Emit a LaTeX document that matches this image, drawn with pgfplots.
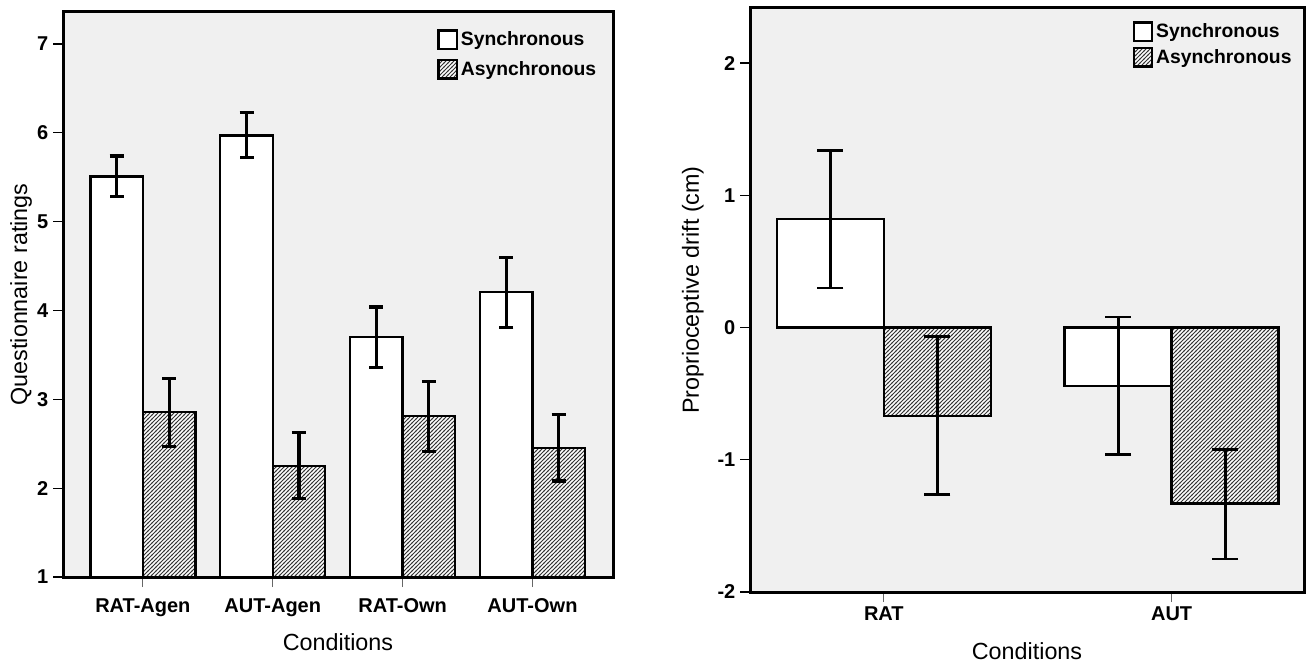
\documentclass[border=0pt]{standalone}
\usepackage{fontspec}
\setmainfont{Liberation Sans}
\usepackage{pgfplots}
\pgfplotsset{compat=1.18}
\usetikzlibrary{patterns}
\definecolor{bgGray}{HTML}{F0F0F0}
\definecolor{hatchInk}{HTML}{333333}

% diagonal hatch, a bit heavier than the stock one
\pgfdeclarepatternformonly{hatch}{\pgfqpoint{-1pt}{-1pt}}{\pgfqpoint{4pt}{4pt}}{\pgfqpoint{3pt}{3pt}}{
  \pgfsetlinewidth{0.6pt}
  \pgfpathmoveto{\pgfqpoint{-0.6pt}{-0.6pt}}
  \pgfpathlineto{\pgfqpoint{3.6pt}{3.6pt}}
  \pgfusepath{stroke}
}

\pgfplotsset{
  spss/.style={
    scale only axis,
    ybar,
    axis background/.style={fill=bgGray},
    tick align=outside,
    major tick length=7.5pt,
    y tick style={black, line width=1pt},
    x tick style={black!60, line width=0.8pt},
    xtick pos=bottom, ytick pos=left,
    ticklabel style={font=\fontsize{15}{18}\selectfont\bfseries},
    label style={font=\fontsize{17.5}{21}\selectfont},
    legend style={draw=none, fill=none, inner sep=0pt, anchor=north west,
      font=\fontsize{14.5}{17}\selectfont\bfseries, cells={anchor=west},
      /tikz/every even column/.append style={column sep=1pt}},
  },
  sqlegend/.style={legend image code/.code={
      \draw[##1, line width=1.7pt] (0pt,-7pt) rectangle (14pt,7pt);}},
  sync/.style={draw=black, fill=white, line width=1.8pt, sqlegend},
  async/.style={draw=black, fill=white, line width=1.8pt,
    postaction={pattern=hatch, pattern color=hatchInk}, sqlegend},
  errs/.style 2 args={error bars/.cd, y dir=both, y explicit,
    error bar style={line width=#1, black},
    error mark options={rotate=90, line width=#1, mark size=#2, black}},
}

\begin{document}
\begin{tikzpicture}
% ---------- left panel: questionnaire ----------
\begin{axis}[spss, name=L,
  at={(47.25pt,-432.75pt)}, anchor=south west,
  width=412.5pt, height=423.75pt,
  xmin=-0.615, xmax=3.62, ymin=1, ymax=7.36,
  xtick={0,1,2,3}, xticklabels={RAT-Agen,AUT-Agen,RAT-Own,AUT-Own},
  xticklabel style={yshift=-5pt},
  ytick={1,...,7}, yticklabels={1,2,3,4,5,6,7},
  xlabel={Conditions}, ylabel={Questionnaire ratings},
  xlabel style={at={(axis description cs:0.5,-0.115)}, anchor=center},
  ylabel style={at={(axis description cs:-0.076,0.5)}, anchor=center},
  legend style={at={(axis description cs:0.68,0.97)}, row sep=6pt},
  bar width=0.404,
]
\addplot[sync, bar shift=-0.202, errs={2.4pt}{5.25pt}]
  coordinates {
  (0,5.51) += (0,0.23) -= (0,0.23)
  (1,5.97) += (0,0.26) -= (0,0.25)
  (2,3.70) += (0,0.34) -= (0,0.34)
  (3,4.21) += (0,0.39) -= (0,0.40)
};
\addlegendentry{Synchronous}
\addplot[async, bar shift=0.202, errs={2.4pt}{5.25pt}]
  coordinates {
  (0,2.86) += (0,0.37) -= (0,0.39)
  (1,2.25) += (0,0.38) -= (0,0.37)
  (2,2.81) += (0,0.39) -= (0,0.40)
  (3,2.45) += (0,0.38) -= (0,0.37)
};
\addlegendentry{Asynchronous}
\end{axis}
\draw[line width=2.25pt] (L.south west) rectangle (L.north east);

% ---------- right panel: proprioceptive drift ----------
\begin{axis}[spss, name=R,
  at={(562.5pt,-444pt)}, anchor=south west,
  width=415.5pt, height=438pt,
  xmin=-0.465, xmax=1.46, ymin=-2, ymax=2.417,
  xtick={0,1}, xticklabels={RAT,AUT},
  ytick={-2,...,2}, yticklabels={-2,-1,0,1,2},
  xlabel={Conditions}, ylabel={Proprioceptive drift (cm)},
  xlabel style={at={(axis description cs:0.5,-0.101)}, anchor=center},
  ylabel style={at={(axis description cs:-0.103,0.517)}, anchor=center},
  legend style={at={(axis description cs:0.69,0.978)}, row sep=3pt},
  bar width=0.372,
]
\addplot[sync, bar shift=-0.186, errs={2.1pt}{9.75pt}]
  coordinates {
  (0,0.82) += (0,0.52) -= (0,0.52)
  (1,-0.44) += (0,0.52) -= (0,0.52)
};
\addlegendentry{Synchronous}
\addplot[async, bar shift=0.186, errs={2.1pt}{9.75pt}]
  coordinates {
  (0,-0.67) += (0,0.60) -= (0,0.59)
  (1,-1.33) += (0,0.41) -= (0,0.42)
};
\addlegendentry{Asynchronous}
\end{axis}
\draw[line width=2.25pt] (R.south west) rectangle (R.north east);
\pgfresetboundingbox
\path[use as bounding box] (0,0) rectangle (981pt,-497.25pt);
\end{tikzpicture}
\end{document}
